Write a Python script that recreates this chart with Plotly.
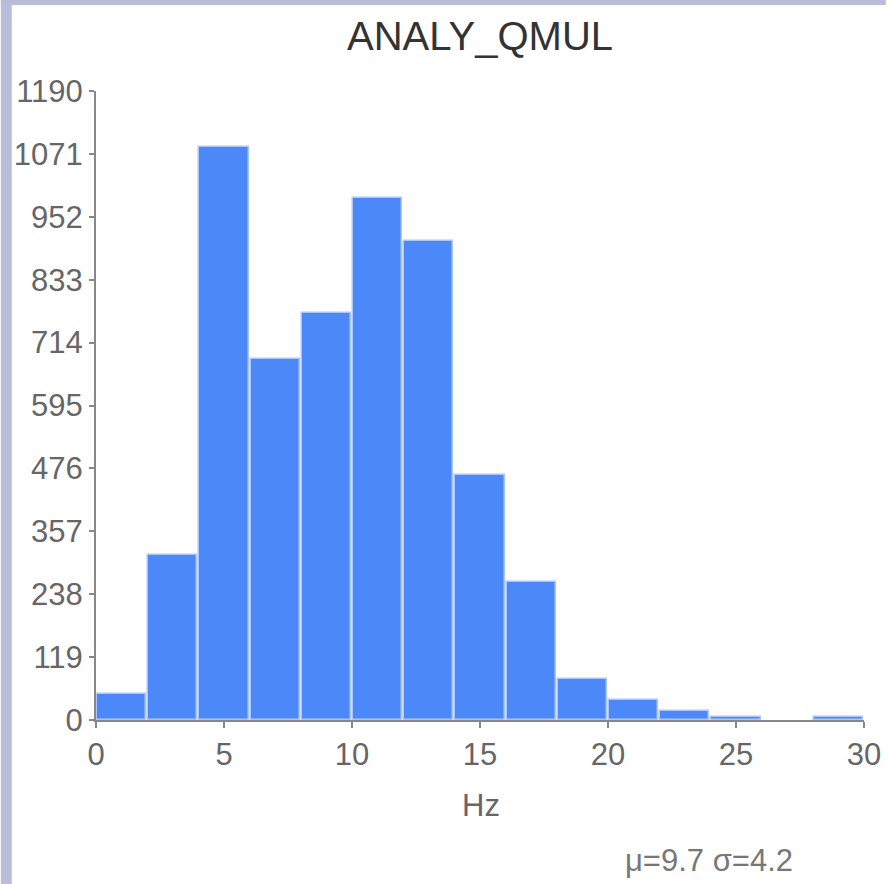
import plotly.graph_objects as go

# Histogram of ANALY_QMUL frequencies (2 Hz bins from 0 to 30)
bin_starts = [0, 2, 4, 6, 8, 10, 12, 14, 16, 18, 20, 22, 24, 26, 28]
counts = [49, 312, 1084, 683, 770, 988, 906, 463, 261, 77, 37, 17, 5, 0, 5]
bin_width = 2
y_ticks = [0, 119, 238, 357, 476, 595, 714, 833, 952, 1071, 1190]
x_ticks = [0, 5, 10, 15, 20, 25, 30]
title_text = "ANALY_QMUL"
x_title = "Hz"
stats_text = "μ=9.7 σ=4.2"

W, H = 893, 884
L, R, T, B = 96, 22, 91, 164
pw, ph = W - L - R, H - T - B

def px_x(p):
    return (p - L) / pw

def px_y(p):
    return (H - B - p) / ph

centers = [s + bin_width / 2 for s in bin_starts]
# empty bins get no outline
line_widths = [1.5 if c > 0 else 0 for c in counts]

fig = go.Figure(go.Bar(
    x=centers,
    y=counts,
    width=bin_width * 0.96,
    marker=dict(color="#4d88f8", line=dict(color="#aac7fb", width=line_widths)),
    hoverinfo="x+y",
))

font_family = "Liberation Sans, Arial, sans-serif"
axis_common = dict(
    showgrid=False, zeroline=False, showline=True, linecolor="#888888", linewidth=2,
    ticks="outside", tickcolor="#888888", tickwidth=2,
    tickfont=dict(family=font_family, size=31, color="#666666"),
)

fig.update_layout(
    width=W, height=H,
    margin=dict(l=L, r=R, t=T, b=B, pad=0),
    paper_bgcolor="white", plot_bgcolor="white",
    showlegend=False,
    bargap=0,
    xaxis=dict(range=[0, 30], tickvals=x_ticks, ticktext=[str(v) for v in x_ticks],
               ticklen=6, **axis_common),
    yaxis=dict(range=[0, 1190], tickvals=y_ticks, ticktext=[str(v) for v in y_ticks],
               ticklen=5, **axis_common),
    shapes=[
        # lavender frame strips along the left and top edges
        dict(type="rect", xref="paper", yref="paper", layer="above",
             x0=px_x(0), x1=px_x(11), y0=px_y(H), y1=px_y(0),
             fillcolor="#b9bddb", line=dict(width=0)),
        dict(type="rect", xref="paper", yref="paper", layer="above",
             x0=px_x(0), x1=px_x(W), y0=px_y(5), y1=px_y(0),
             fillcolor="#b9bddb", line=dict(width=0)),
    ],
    annotations=[
        dict(text=title_text, xref="paper", yref="paper", x=px_x(483), y=px_y(36),
             showarrow=False, xanchor="center", yanchor="middle",
             font=dict(family=font_family, size=40, color="#333333")),
        dict(text=x_title, xref="paper", yref="paper", x=px_x(485), y=px_y(805),
             showarrow=False, xanchor="center", yanchor="middle",
             font=dict(family=font_family, size=31, color="#666666")),
        dict(text=stats_text, xref="paper", yref="paper", x=px_x(715), y=px_y(860),
             showarrow=False, xanchor="center", yanchor="middle",
             font=dict(family=font_family, size=31, color="#777777")),
    ],
)

fig.write_html("out.html")
